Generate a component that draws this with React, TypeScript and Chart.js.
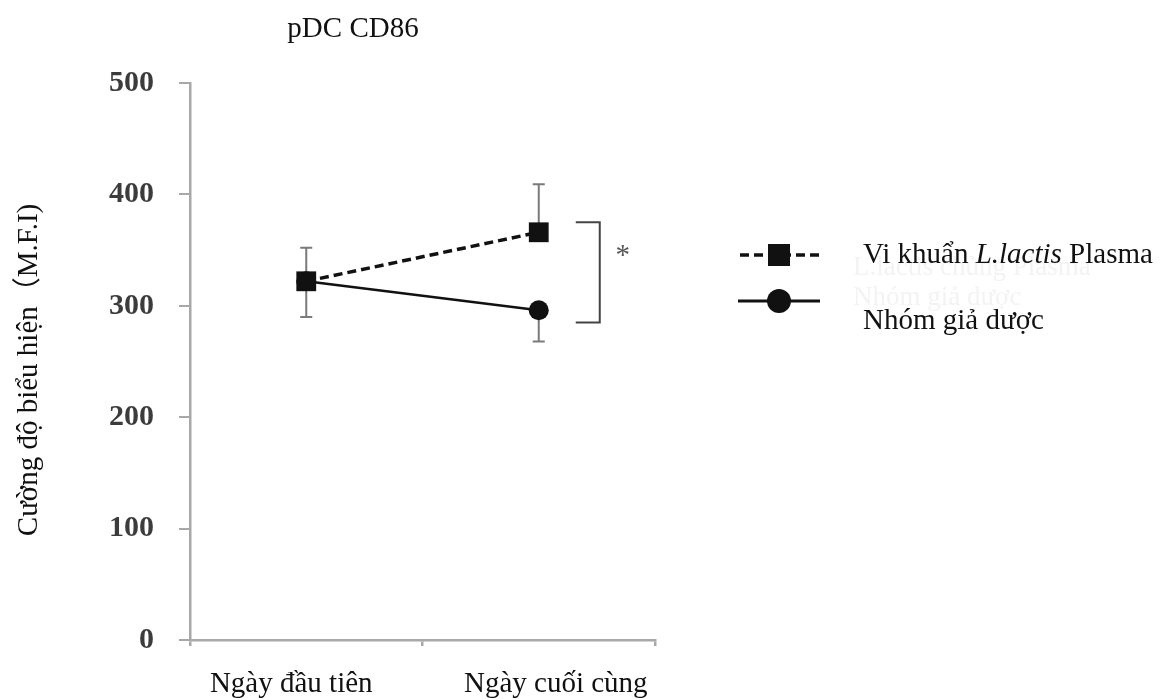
import React, { useEffect, useRef } from "react";
import { Chart, registerables } from "chart.js";

Chart.register(...registerables);

// ---- data ----
const categories = ["Ngày đầu tiên", "Ngày cuối cùng"];
const lactisValues = [322, 366];
const placeboValues = [322, 296];
const lactisErrUp = [30, 43];
const placeboErrDown = [32, 28];
const yTicks = [0, 100, 200, 300, 400, 500];
const bracketRange = [285, 375];
const asteriskValue = 350;

const chartTitle = "pDC CD86";
const yTitle = "Cường độ biểu hiện（M.F.I)";
const lactisLabelParts = ["Vi khuẩn ", "L.lactis", " Plasma"];
const placeboLabel = "Nhóm giả dược";
const ghostLabels = ["L.lactis chủng Plasma", "Nhóm giả dược"];

const SERIF = '"Liberation Serif", "Times New Roman", "Noto Sans CJK JP", serif';
const AXIS_COLOR = "#a8a8a8";
const labelShift = [-15, 17];

const annotations = {
  id: "annotations",
  beforeDatasetsDraw(chart: any) {
    const ctx = chart.ctx;
    const xs = chart.scales.x;
    const ys = chart.scales.y;
    ctx.save();
    ctx.strokeStyle = "#7a7a7a";
    ctx.lineWidth = 2;
    const bar = (i: number, v: number, e: number) => {
      const x = xs.getPixelForValue(i);
      const y0 = ys.getPixelForValue(v);
      const y1 = ys.getPixelForValue(v + e);
      ctx.beginPath();
      ctx.moveTo(x, y0);
      ctx.lineTo(x, y1);
      ctx.moveTo(x - 6, y1);
      ctx.lineTo(x + 6, y1);
      ctx.stroke();
    };
    lactisValues.forEach((v, i) => bar(i, v, lactisErrUp[i]));
    placeboValues.forEach((v, i) => bar(i, v, -placeboErrDown[i]));
    ctx.restore();
  },
  afterDraw(chart: any) {
    const ctx = chart.ctx;
    const xs = chart.scales.x;
    const ys = chart.scales.y;
    ctx.save();

    // chart title
    ctx.fillStyle = "#111";
    ctx.font = `29px ${SERIF}`;
    ctx.textAlign = "center";
    ctx.textBaseline = "alphabetic";
    ctx.fillText(chartTitle, 353, 37);

    // y title
    ctx.save();
    ctx.translate(29, 370);
    ctx.rotate(-Math.PI / 2);
    ctx.textAlign = "center";
    ctx.textBaseline = "middle";
    ctx.font = `29px ${SERIF}`;
    ctx.fillText(yTitle, 0, 0);
    ctx.restore();

    // x labels
    ctx.font = `29px ${SERIF}`;
    ctx.textAlign = "center";
    ctx.textBaseline = "alphabetic";
    categories.forEach((c, i) => {
      ctx.fillText(c, xs.getPixelForValue(i) + labelShift[i], 692);
    });

    // bracket
    const bx = xs.getPixelForValue(1) + 61;
    const bTop = ys.getPixelForValue(bracketRange[1]);
    const bBot = ys.getPixelForValue(bracketRange[0]);
    ctx.strokeStyle = "#444";
    ctx.lineWidth = 2;
    ctx.beginPath();
    ctx.moveTo(bx - 24, bTop);
    ctx.lineTo(bx, bTop);
    ctx.lineTo(bx, bBot);
    ctx.lineTo(bx - 24, bBot);
    ctx.stroke();
    ctx.fillStyle = "#555";
    ctx.font = `29px ${SERIF}`;
    ctx.textAlign = "center";
    ctx.fillText("*", bx + 23, ys.getPixelForValue(asteriskValue) + 14);

    // ghost texts (scan residue)
    ctx.fillStyle = "#f3f3f3";
    ctx.font = `27px ${SERIF}`;
    ctx.textAlign = "left";
    ctx.fillText(ghostLabels[0], 853, 275);
    ctx.fillText(ghostLabels[1], 853, 305);

    // legend
    ctx.strokeStyle = "#111";
    ctx.fillStyle = "#111";
    ctx.lineWidth = 3.5;
    ctx.setLineDash([9, 5]);
    ctx.beginPath();
    ctx.moveTo(740, 255);
    ctx.lineTo(822, 255);
    ctx.stroke();
    ctx.setLineDash([]);
    ctx.fillRect(768, 244, 22, 22);
    ctx.lineWidth = 3;
    ctx.beginPath();
    ctx.moveTo(738, 301);
    ctx.lineTo(820, 301);
    ctx.stroke();
    ctx.beginPath();
    ctx.arc(779, 301, 12, 0, Math.PI * 2);
    ctx.fill();

    let tx = 863;
    ctx.textAlign = "left";
    lactisLabelParts.forEach((p, i) => {
      ctx.font = i === 1 ? `italic 29px ${SERIF}` : `29px ${SERIF}`;
      ctx.fillText(p, tx, 263);
      tx += ctx.measureText(p).width;
    });
    ctx.font = `29px ${SERIF}`;
    ctx.fillText(placeboLabel, 863, 329);

    ctx.restore();
  },
};

export default function App() {
  const canvasRef = useRef<HTMLCanvasElement | null>(null);

  useEffect(() => {
    if (!canvasRef.current) return;
    const chart = new Chart(canvasRef.current, {
      type: "line",
      data: {
        labels: categories,
        datasets: [
          {
            label: lactisLabelParts.join(""),
            data: lactisValues,
            borderColor: "#111",
            backgroundColor: "#111",
            borderWidth: 3.5,
            borderDash: [9, 5],
            pointStyle: "rect",
            pointRadius: 14,
            pointBorderWidth: 0,
            pointBackgroundColor: "#111",
          },
          {
            label: placeboLabel,
            data: placeboValues,
            borderColor: "#111",
            backgroundColor: "#111",
            borderWidth: 2.5,
            pointStyle: "circle",
            pointRadius: 10,
            pointBorderWidth: 0,
            pointBackgroundColor: "#111",
          },
        ],
      },
      options: {
        animation: false,
        responsive: true,
        maintainAspectRatio: false,
        layout: { padding: { left: 0, right: 1162 - 655, top: 83, bottom: 0 } },
        plugins: { legend: { display: false }, tooltip: { enabled: false }, title: { display: false } },
        scales: {
          x: {
            type: "category",
            offset: true,
            grid: {
              offset: true,
              drawOnChartArea: false,
              drawTicks: true,
              tickLength: 6,
              color: AXIS_COLOR,
              lineWidth: 2.5,
            },
            border: { color: AXIS_COLOR, width: 2.5 },
            ticks: { display: false },
            afterFit: (scale: any) => {
              scale.height = 700 - 640;
            },
          },
          y: {
            min: 0,
            max: 500,
            afterBuildTicks: (scale: any) => {
              scale.ticks = yTicks.map((v) => ({ value: v }));
            },
            grid: {
              drawOnChartArea: false,
              drawTicks: true,
              tickLength: 11,
              color: AXIS_COLOR,
              lineWidth: 2,
            },
            border: { color: AXIS_COLOR, width: 2.5 },
            ticks: {
              padding: 25,
              color: "#3c3c3c",
              font: { family: SERIF, size: 30, weight: "bold" },
            },
            afterFit: (scale: any) => {
              scale.width = 190;
            },
          },
        },
      },
      plugins: [annotations],
    });
    return () => chart.destroy();
  }, []);

  return (
    <div style={{ position: "absolute", left: 0, top: 0, width: 1162, height: 700, background: "#fff" }}>
      <canvas ref={canvasRef} />
    </div>
  );
}
